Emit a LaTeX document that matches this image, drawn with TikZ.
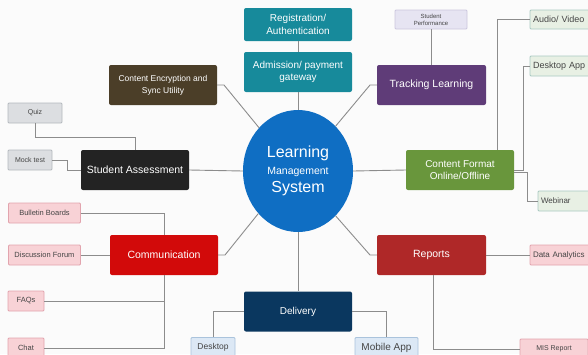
\documentclass[tikz,border=0pt]{standalone}
\usepackage{fontspec}
\setmainfont{Liberation Sans}
\usetikzlibrary{shapes.geometric}
\definecolor{bgc}{HTML}{FBFBFB}
\definecolor{lineg}{HTML}{8C8C8C}
\definecolor{tealc}{HTML}{178A9B}
\definecolor{hubc}{HTML}{0F6EC3}
\definecolor{encc}{HTML}{4B3E28}
\definecolor{trkc}{HTML}{5F3C78}
\definecolor{fmtc}{HTML}{69963C}
\definecolor{assc}{HTML}{232323}
\definecolor{comc}{HTML}{D20A0A}
\definecolor{repc}{HTML}{AF2828}
\definecolor{delc}{HTML}{0A375F}
\definecolor{grayf}{HTML}{DCDEE1}\definecolor{grayd}{HTML}{B4B9BE}
\definecolor{lavf}{HTML}{E6E4F2}\definecolor{lavd}{HTML}{CBC6DE}
\definecolor{grnf}{HTML}{E8F0E4}\definecolor{grnd}{HTML}{A9C9C2}
\definecolor{pnkf}{HTML}{F8D2D6}\definecolor{pnkd}{HTML}{E2A4AE}
\definecolor{bluf}{HTML}{DCE8F5}\definecolor{blud}{HTML}{AAC3DC}
\definecolor{smtxt}{HTML}{454545}
\tikzset{
  mainbox/.style={rectangle, rounded corners=2pt, inner sep=0pt, text=white,
    align=center, font=\fontsize{10}{12.5}\selectfont},
  leaf/.style={rectangle, rounded corners=1pt, inner sep=0pt, draw=#1d, fill=#1f,
    line width=0.8pt, text=smtxt, align=center, font=\fontsize{7.5}{8}\selectfont},
  hubtext/.style={text=white, inner sep=0pt},
  link/.style={draw=lineg, line width=0.9pt},
}
\begin{document}
\begin{tikzpicture}[x=1pt, y=-1pt]
\fill[bgc] (0,0) rectangle (588,354);
\useasboundingbox (0,0) rectangle (588,354);

% hub
\node[ellipse, fill=hubc, minimum width=110pt, minimum height=122pt, inner sep=0pt]
  (lms) at (298,171) {};
\node[hubtext, font=\fontsize{16}{18}\selectfont] (lmsA) at (298,153) {Learning};
\node[hubtext, font=\fontsize{10.5}{12}\selectfont] (lmsB) at (298,171.5) {Management};
\node[hubtext, font=\fontsize{16}{18}\selectfont] (lmsC) at (298,189) {System};

% main branches
\node[mainbox, fill=tealc, minimum width=108pt, minimum height=33pt] (reg) at (298,24.5)
  {Registration/\\Authentication};
\node[mainbox, fill=tealc, minimum width=108pt, minimum height=40pt] (adm) at (298,72)
  {Admission/ payment\\gateway};
\node[mainbox, fill=encc, minimum width=108pt, minimum height=40pt,
  font=\fontsize{8.5}{12}\selectfont] (enc) at (163,85)
  {Content Encryption and\\Sync Utility};
\node[mainbox, fill=trkc, minimum width=109pt, minimum height=40pt,
  font=\fontsize{10.5}{12}\selectfont] (trk) at (431.5,85) {Tracking Learning};
\node[mainbox, fill=fmtc, minimum width=108pt, minimum height=40pt] (fmt) at (460,170)
  {Content Format\\Online/Offline};
\node[mainbox, fill=assc, minimum width=108pt, minimum height=40pt,
  font=\fontsize{10.5}{12}\selectfont] (ass) at (135,170) {Student Assessment};
\node[mainbox, fill=comc, minimum width=108pt, minimum height=40pt,
  font=\fontsize{10.5}{12}\selectfont] (com) at (164,255) {Communication};
\node[mainbox, fill=repc, minimum width=109pt, minimum height=40pt,
  font=\fontsize{10.5}{12}\selectfont] (rep) at (431.5,255) {Reports};
\node[mainbox, fill=delc, minimum width=108pt, minimum height=40pt] (del) at (298,311.5)
  {Delivery};

% leaves
\node[leaf=lav, minimum width=72pt, minimum height=19pt,
  font=\fontsize{6}{7}\selectfont] (perf) at (431,19.5) {Student\\Performance};
\node[leaf=grn, minimum width=68pt, minimum height=19pt, text width=62pt, align=left,
  font=\fontsize{9}{10}\selectfont] (av) at (564,19.5) {Audio/ Video};
\node[leaf=grn, minimum width=68pt, minimum height=20pt, text width=62pt, align=left,
  font=\fontsize{9}{10}\selectfont] (dap) at (564,66) {Desktop App};
\node[leaf=grn, minimum width=60pt, minimum height=20pt, text width=54pt, align=left,
  font=\fontsize{8}{10}\selectfont] (web) at (568,201) {Webinar};
\node[leaf=gray, minimum width=54pt, minimum height=20pt,
  font=\fontsize{7}{8}\selectfont] (quiz) at (35,113) {Quiz};
\node[leaf=gray, minimum width=44pt, minimum height=20pt,
  font=\fontsize{7}{8}\selectfont] (mock) at (30,160) {Mock test};
\node[leaf=pnk, minimum width=72pt, minimum height=20pt] (bul) at (44.5,213) {Bulletin Boards};
\node[leaf=pnk, minimum width=72pt, minimum height=20pt] (dis) at (44.5,255) {Discussion Forum};
\node[leaf=pnk, minimum width=36pt, minimum height=20pt] (faq) at (26,301) {FAQs};
\node[leaf=pnk, minimum width=36pt, minimum height=20pt] (chat) at (26,348) {Chat};
\node[leaf=blu, minimum width=44pt, minimum height=20pt,
  font=\fontsize{8.5}{10}\selectfont] (dsk) at (213,347.5) {Desktop};
\node[leaf=blu, minimum width=63pt, minimum height=20pt,
  font=\fontsize{10}{11}\selectfont] (mob) at (386.5,347.5) {Mobile App};
\node[leaf=pnk, minimum width=68pt, minimum height=20pt, text width=62pt, align=left,
  font=\fontsize{8}{9}\selectfont] (dat) at (564,255) {Data Analytics};
\node[leaf=pnk, minimum width=68pt, minimum height=20pt,
  font=\fontsize{7}{8}\selectfont] (mis) at (554,349) {MIS Report};

% connectors around the hub
\draw[link] (reg.south) -- (adm.north);
\draw[link] (adm.south) -- (lms.north);
\draw[link] (lms.south) -- (del.north);
\draw[link] (ass.east) -- (lms.west);
\draw[link] (lms.east) -- (fmt.west);
\draw[link] (enc.east) -- (224,85) -- (lms.132);
\draw[link] (trk.west) -- (370,85) -- (lms.50);
\draw[link] (com.east) -- (225,255) -- (lms.227);
\draw[link] (rep.west) -- (370,255) -- (lms.310);

% secondary connectors
\draw[link] (perf.south) -- (trk.north -| perf.south);
\draw[link] (fmt.north -| 497,0) |- (av.west);
\draw[link] (fmt.east |- 0,170) -- (523,170) |- (dap.west);
\draw[link] (fmt.east |- 0,172) -- (527,172) |- (web.west);
\draw[link] (quiz.south) |- (135,137) -- (ass.north);
\draw[link] (mock.east) -- (67,160) |- (ass.west);
\draw[link] (bul.east) -| (com.north);
\draw[link] (dis.east) -- (com.west);
\draw[link] (faq.east) -- (164,301);
\draw[link] (com.south) |- (chat.east);
\draw[link] (del.west) -| (dsk.north);
\draw[link] (del.east) -| (mob.north);
\draw[link] (rep.east) -- (dat.west);
\draw[link] (rep.south -| 433,0) |- (mis.west);
\end{tikzpicture}
\end{document}
